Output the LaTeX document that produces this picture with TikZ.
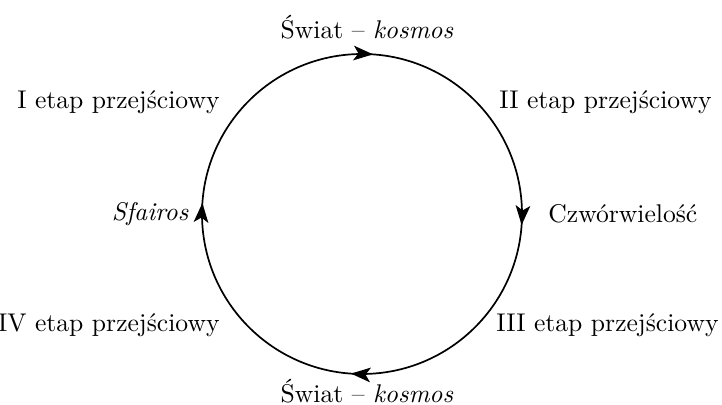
\documentclass[tikz,border=0pt]{standalone}
\usepackage{tikz}
\usetikzlibrary{arrows.meta,decorations.markings}

\tikzset{
  grot/.tip={Stealth[length=8pt,width=6pt,inset=2pt]},
  cykl/.style={line width=0.7pt, decoration={markings,
    mark=at position 0.011 with {\arrow{grot}},
    mark=at position 0.261 with {\arrow{grot}},
    mark=at position 0.511 with {\arrow{grot}},
    mark=at position 0.761 with {\arrow{grot}}},
    postaction={decorate}},
  etykieta/.style={inner sep=0pt, font=\fontsize{10.5}{12.6}\selectfont}
}

\begin{document}
\begin{tikzpicture}[x=0.41pt, y=0.41pt]

% Ramka
\useasboundingbox (0,0) rectangle (722,405);

% Okrag (zgodnie z ruchem wskazowek zegara, od prawej)
\coordinate (srodek) at (362,191);
\draw[cykl] (522,191) arc[start angle=360, end angle=0, radius=160];

% Etykiety glowne
\node[etykieta] (gora)  at (367,378) {Świat -- \textit{kosmos}};
\node[etykieta] (dol)   at (367,14)  {Świat -- \textit{kosmos}};
\node[etykieta, anchor=west] (prawo) at (548,191) {Czwórwielość};
\node[etykieta, anchor=east] (lewo)  at (189,191) {\textit{Sfairos}};

% Etapy przejsciowe
\node[etykieta, anchor=east] (etap1) at (220,303) {I etap przejściowy};
\node[etykieta, anchor=east] (etap2) at (712,303) {II etap przejściowy};
\node[etykieta, anchor=east] (etap3) at (719,80)  {III etap przejściowy};
\node[etykieta, anchor=east] (etap4) at (220,80)  {IV etap przejściowy};

\end{tikzpicture}
\end{document}
